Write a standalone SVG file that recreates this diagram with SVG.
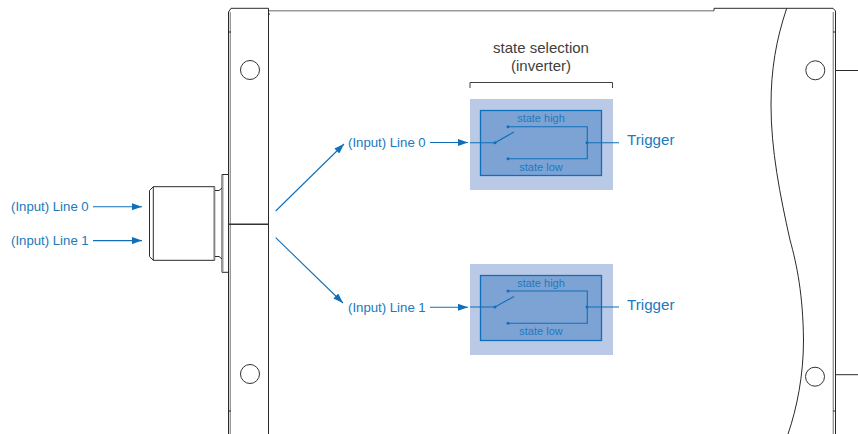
<svg xmlns="http://www.w3.org/2000/svg" width="858" height="434" viewBox="0 0 858 434">
<style>
.k{fill:none;stroke:#2a2a2a;stroke-width:1}
.g{fill:none;stroke:#999;stroke-width:1.4}
.hole{fill:#fff;stroke:#333;stroke-width:1}
.b{fill:none;stroke:#0f6fb8;stroke-width:1.1}
.t{font-family:"Liberation Sans",Arial,sans-serif;fill:#2079bd}
.s{font-size:13.2px}
.sm{font-size:11px;text-anchor:middle}
.tr{font-size:15.200px}
.h{font-family:"Liberation Sans",Arial,sans-serif;fill:#404040;font-size:15px;text-anchor:middle}
.outer{fill:#bacae6}
.inner{fill:#7da3d5;stroke:#0f6fb8;stroke-width:1.3}
.dot{fill:#0f6fb8}
</style>
<defs>
<marker id="a" markerWidth="10" markerHeight="7" refX="10" refY="3.500" orient="auto" markerUnits="userSpaceOnUse"><path d="M0 0L10 3.500L0 7z" fill="#0f6fb8"/></marker>
</defs>
<g id="housing">
<path class="k" d="M228.500 434V12L231 8.300H268.500V434"/>
<path class="g" d="M230.300 12V434"/>
<path class="g" d="M269 10.700H714"/>
<path class="k" d="M714 10.700V8.300H833L835.500 11V434"/>
<path class="g" d="M833.300 12V434"/>
<path class="k" d="M786.700 8.300C776 40 771 70 771 105C771 150 780 195 790 240C797 265 803 295 803.500 340C803.500 375 797 408 788 434"/>
<path class="k" d="M836 70.500H858M836 374.700H858"/>
<path class="k" d="M228 32H231M268 14H270M833 32H836M833 411H836M228 411H231"/>
<path d="M229 224.300H268.500" fill="none" stroke="#333" stroke-width="1.600"/>
<circle class="hole" cx="250" cy="70" r="9.500"/>
<circle class="hole" cx="250" cy="374" r="9.500"/>
<circle class="hole" cx="815.300" cy="70.300" r="9.500"/>
<circle class="hole" cx="815" cy="376.700" r="9.500"/>
</g>
<g id="connector">
<path class="k" d="M153.300 186.700H214.700V260.300H153.300L149.500 256.500V190.500Z"/>
<path class="g" d="M214 187V260"/>
<path class="k" d="M215 190.500H219L222 188M215 256.500H219L222 259"/>
<path class="k" d="M222 272.300V174.500H228M222 272.300H228"/>
<path class="g" d="M222.800 175V272"/>
<path class="k" d="M153.300 186.700V260.300"/>
</g>
<g id="bracket"><path d="M470 88V82.500H612.500V88" fill="none" stroke="#404040" stroke-width="1"/></g>
<g id="selector-title"><text class="h" x="541" y="53">state selection</text><text class="h" x="541" y="71">(inverter)</text></g>
<g id="selector-0">
<rect class="outer" x="470" y="99" width="143" height="91"/>
<rect class="inner" x="480.500" y="110.500" width="121" height="65"/>
<path class="b" d="M495 142.700L514 132M508 126.700H587.300V158.700H508M587.300 142.700H619M470 142.700H495"/>
<circle class="dot" cx="508" cy="126.700" r="1.500"/><circle class="dot" cx="508" cy="158.700" r="1.500"/><circle class="dot" cx="495" cy="142.700" r="1.500"/><circle class="dot" cx="587" cy="142.700" r="1.500"/>
<text class="t sm" x="541" y="122">state high</text><text class="t sm" x="541" y="171">state low</text>
<text class="t tr" x="627" y="145">Trigger</text>
</g>
<g id="selector-1">
<rect class="outer" x="470" y="264" width="143" height="91"/>
<rect class="inner" x="480.500" y="275.500" width="121" height="65"/>
<path class="b" d="M495 307L514 296.500M508 291H587.300V323.300H508M587.300 307H619M470 307H495"/>
<circle class="dot" cx="508" cy="291" r="1.500"/><circle class="dot" cx="508" cy="323.300" r="1.500"/><circle class="dot" cx="495" cy="307" r="1.500"/><circle class="dot" cx="587" cy="307" r="1.500"/>
<text class="t sm" x="541" y="287">state high</text><text class="t sm" x="541" y="335">state low</text>
<text class="t tr" x="627" y="310">Trigger</text>
</g>
<g id="labels">
<text class="t s" x="11" y="211">(Input) Line 0</text>
<text class="t s" x="11" y="245">(Input) Line 1</text>
<text class="t s" x="348" y="147">(Input) Line 0</text>
<text class="t s" x="348" y="312">(Input) Line 1</text>
</g>
<g id="connectors">
<path class="b" marker-end="url(#a)" d="M93 206.700H142"/>
<path class="b" marker-end="url(#a)" d="M93 240.600H142"/>
<path class="b" marker-end="url(#a)" d="M275.700 211L344 144"/>
<path class="b" marker-end="url(#a)" d="M275.700 237.700L343 303"/>
<path class="b" marker-end="url(#a)" d="M430 142.500H468"/>
<path class="b" marker-end="url(#a)" d="M430 307.300H468"/>
</g>
</svg>
